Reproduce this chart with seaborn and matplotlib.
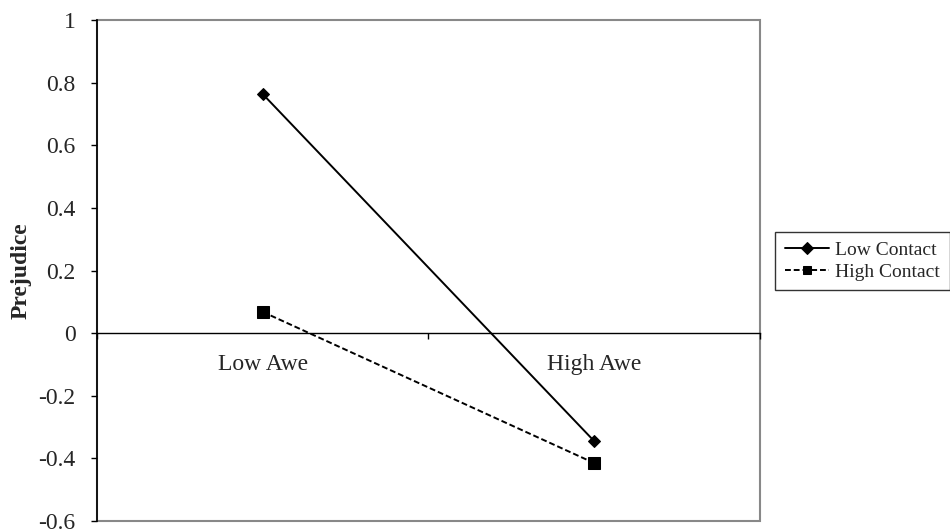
import numpy as np
import pandas as pd
import matplotlib
matplotlib.use("Agg")
import matplotlib.pyplot as plt
import seaborn as sns
from matplotlib.patches import Rectangle

categories = ["Low Awe", "High Awe"]
low_contact = [0.764, -0.345]
high_contact = [0.068, -0.415]
series_names = ["Low Contact", "High Contact"]
y_ticks = [-0.6, -0.4, -0.2, 0, 0.2, 0.4, 0.6, 0.8, 1]
y_tick_labels = ["-0.6", "-0.4", "-0.2", "0", "0.2", "0.4", "0.6", "0.8", "1"]

sns.set_style("white")
plt.rcParams["font.family"] = ["Liberation Serif", "DejaVu Serif"]

df = pd.DataFrame({
    "x": [0.5, 1.5, 0.5, 1.5],
    "y": low_contact + high_contact,
    "series": [series_names[0]] * 2 + [series_names[1]] * 2,
})

fig = plt.figure(figsize=(9.5, 5.3), dpi=100)
ax = fig.add_axes([0.102, 0.017, 0.698, 0.945])

sns.lineplot(data=df, x="x", y="y", hue="series", style="series",
             palette=["black", "black"], markers=["D", "s"],
             dashes=[(None, None), (3, 1.5)], markersize=7, linewidth=1.4,
             markeredgecolor="black", ax=ax)
for ln, ms in zip(ax.lines, [6, 8]):
    ln.set_markersize(ms)

ax.set_xlim(0, 2)
ax.set_ylim(-0.6, 1)
ax.set_yticks(y_ticks)
ax.set_yticklabels(y_tick_labels, fontsize=17)
ax.tick_params(axis="y", direction="out", length=4.3, width=1, color="black", left=True, pad=11)

# category axis at zero
ax.spines["bottom"].set_position(("data", 0))
ax.spines["bottom"].set_color("black")
ax.spines["bottom"].set_linewidth(1)
ax.set_xticks([0, 1, 2])
ax.set_xticklabels(["", "", ""])
ax.set_xticks([0.5, 1.5], minor=True)
ax.set_xticklabels(categories, minor=True, fontsize=17)
ax.tick_params(axis="x", which="major", direction="out", length=4.3, width=1, color="black", bottom=True)
ax.tick_params(axis="x", which="minor", length=0, pad=15)

ax.spines["left"].set_color("black")
ax.spines["left"].set_linewidth(1.2)
for s in ["top", "right"]:
    ax.spines[s].set_visible(False)
ax.add_patch(Rectangle((0, 0), 1, 1, transform=ax.transAxes, fill=False,
                       edgecolor="#888888", linewidth=1.5, clip_on=False, zorder=0))

ax.set_xlabel("")
ax.set_ylabel("Prejudice", fontsize=17, fontweight="bold")
ax.yaxis.set_label_coords(-0.098, 0.5)

leg = ax.legend(loc="center left", bbox_to_anchor=(1.0226, 0.519), fontsize=14,
                frameon=True, fancybox=False, edgecolor="black", handlelength=2.3,
                borderpad=0.5, labelspacing=0.2, handletextpad=0.3, borderaxespad=0)
leg.get_frame().set_linewidth(1)
for h in leg.get_lines():
    h.set_markersize(6)
leg.set_title(None)

fig.savefig("out.png", dpi=100)
